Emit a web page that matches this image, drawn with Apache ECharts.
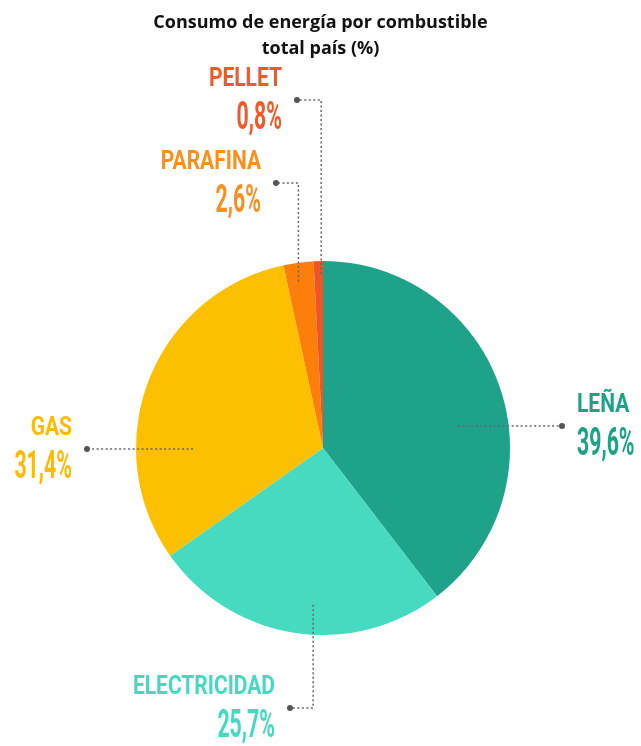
<!DOCTYPE html>
<html>
<head>
<meta charset="utf-8">
<script src="https://cdn.jsdelivr.net/npm/echarts@6/dist/echarts.min.js"></script>
<style>
  html, body { margin: 0; padding: 0; background: #fff; }
  #chart { width: 641px; height: 746px; }
</style>
</head>
<body>
<div id="chart"></div>
<script>
// datos
const fuels = ['LEÑA', 'ELECTRICIDAD', 'GAS', 'PARAFINA', 'PELLET'];
const shares = [39.6, 25.7, 31.4, 2.6, 0.8];
const colors = ['#1ea38a', '#46dac0', '#fdc000', '#fd7f0b', '#ef5424'];
const labelColors = ['#1ba386', '#44d9c0', '#fdbb00', '#f7901e', '#f05a28'];

const center = [323, 448];
const radius = 187;
const font = 'Roboto, "Liberation Sans", sans-serif';

// líneas guía: ancla dentro del sector (ángulo desde arriba en sentido horario, fracción del radio)
// dot: extremo con punto; side: lado del texto respecto al punto
const leaders = [
  { ang: 80.7, rf: 0.73, dot: [562, 426], side: 'left' },
  { ang: 183.6, rf: 0.84, dot: [290, 708], side: 'right' },
  { ang: 270, rf: 0.70, dot: [87, 449], side: 'right' },
  { ang: 351.6, rf: 0.90, dot: [276, 183], side: 'right' },
  { ang: 359.4, rf: 0.93, dot: [297, 100], side: 'right' }
];

function anchorOf(l) {
  const a = l.ang * Math.PI / 180;
  return [center[0] + radius * l.rf * Math.sin(a), center[1] - radius * l.rf * Math.cos(a)];
}

function fmt(v) {
  return v.toFixed(1).replace('.', ',') + '%';
}

const graphics = [];
leaders.forEach((l, i) => {
  const a = anchorOf(l);
  graphics.push({
    type: 'polyline',
    shape: { points: [a, [a[0], l.dot[1]], l.dot] },
    style: { stroke: '#666', lineWidth: 1.5, lineDash: [2, 2.5], fill: null },
    z: 10
  });
  graphics.push({
    type: 'circle',
    shape: { cx: l.dot[0], cy: l.dot[1], r: 3 },
    style: { fill: '#555' },
    z: 11
  });
  const tx = l.side === 'left' ? l.dot[0] + 15 : l.dot[0] - 15;
  graphics.push({
    type: 'text',
    x: tx, y: l.dot[1] - 20,
    scaleX: 0.84,
    style: {
      text: fuels[i], fill: labelColors[i], font: 'bold 25px ' + font,
      align: l.side, verticalAlign: 'middle'
    },
    z: 11
  });
  graphics.push({
    type: 'text',
    x: tx, y: l.dot[1] + 19,
    scaleX: 0.56,
    style: {
      text: fmt(shares[i]), fill: labelColors[i], font: 'bold 38px ' + font,
      align: l.side, verticalAlign: 'middle'
    },
    z: 11
  });
});

const chart = echarts.init(document.getElementById('chart'));

chart.setOption({
  animation: false,
  title: {
    text: 'Consumo de energía por combustible\ntotal país (%)',
    left: 'center',
    top: 5,
    textStyle: {
      fontFamily: '"Open Sans", sans-serif',
      fontSize: 18,
      fontWeight: 'bold',
      color: '#111',
      lineHeight: 26
    }
  },
  graphic: graphics,
  series: [{
    type: 'pie',
    center: center,
    radius: radius,
    startAngle: 90,
    clockwise: true,
    silent: true,
    label: { show: false },
    labelLine: { show: false },
    data: fuels.map((f, i) => ({
      name: f,
      value: shares[i],
      itemStyle: { color: colors[i] }
    }))
  }]
});
</script>
</body>
</html>
